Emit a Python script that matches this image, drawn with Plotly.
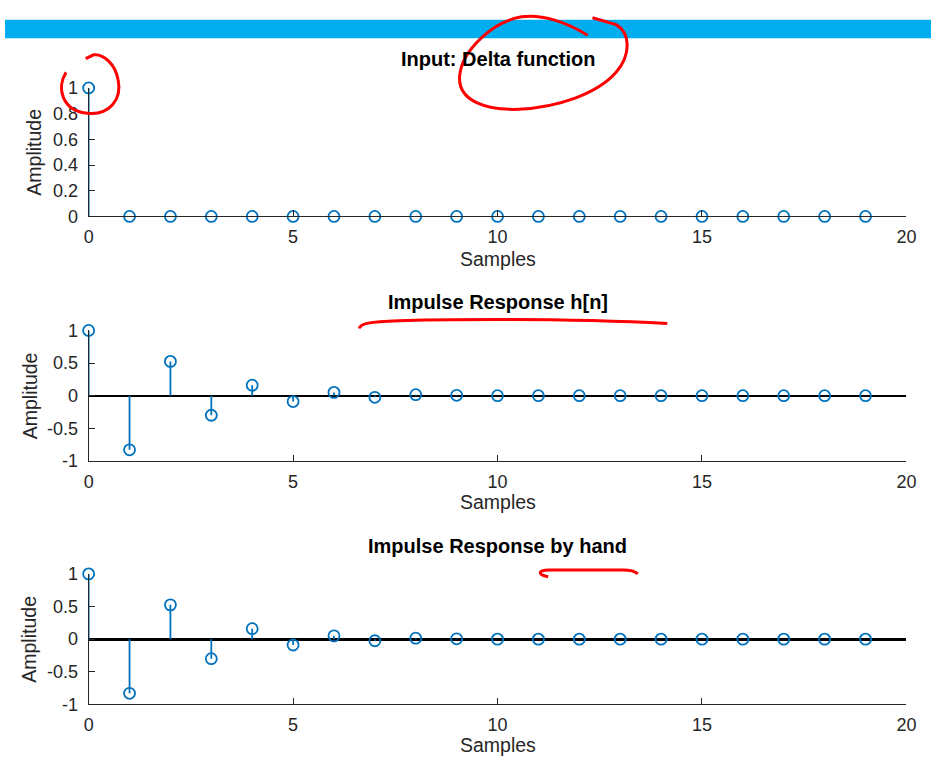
import plotly.graph_objects as go

# ---- data ----
samples = list(range(20))
delta_input = [1] + [0] * 19
h_impulse = [1, -0.83, 0.525, -0.30, 0.16, -0.09, 0.05, -0.025, 0.015, 0.005,
             0, 0, 0, 0, 0, 0, 0, 0, 0, 0]
h_by_hand = [1, -0.83, 0.525, -0.30, 0.16, -0.09, 0.05, -0.025, 0.015, 0.005,
             0, 0, 0, 0, 0, 0, 0, 0, 0, 0]
titles = ["Input: Delta function", "Impulse Response h[n]", "Impulse Response by hand"]
x_ticks = [0, 5, 10, 15, 20]
y_ticks_top = [0, 0.2, 0.4, 0.6, 0.8, 1]
y_tick_text_top = ["0", "0.2", "0.4", "0.6", "0.8", "1"]
y_ticks_sym = [-1, -0.5, 0, 0.5, 1]
y_tick_text_sym = ["-1", "-0.5", "0", "0.5", "1"]

W, H = 941, 766
BLUE = "#0072BD"
AX = "#262626"
FONT = "Liberation Sans, Arial, Helvetica, sans-serif"


def px(x):
    return x / W


def py(y):
    return 1 - y / H


fig = go.Figure()

series = [delta_input, h_impulse, h_by_hand]
for i, vals in enumerate(series):
    xa = "x" if i == 0 else f"x{i+1}"
    ya = "y" if i == 0 else f"y{i+1}"
    sx, sy = [], []
    for n, v in zip(samples, vals):
        sx += [n, n, None]
        sy += [0, v, None]
    fig.add_trace(go.Scatter(x=sx, y=sy, mode="lines", xaxis=xa, yaxis=ya,
                             line=dict(color=BLUE, width=1.8), hoverinfo="skip",
                             showlegend=False, cliponaxis=False))
    fig.add_trace(go.Scatter(x=samples, y=vals, mode="markers", xaxis=xa, yaxis=ya,
                             marker=dict(symbol="circle-open", size=11, color=BLUE,
                                         line=dict(width=1.8, color=BLUE)),
                             showlegend=False, cliponaxis=False))

# axis pixel geometry (left, right, top, bottom)
boxes = [(85, 916, 80, 212), (85, 916, 329, 463), (85, 916, 579, 713)]
zero_w = [1, 1.8, 2.6]
layout = {}
for i, (l, r, t, b) in enumerate(boxes):
    sfx = "" if i == 0 else str(i + 1)
    layout["xaxis" + sfx] = dict(
        domain=[px(l), px(r)], range=[0, 20], anchor="y" + sfx,
        tickvals=x_ticks, ticktext=[str(v) for v in x_ticks],
        ticks="inside", ticklen=6, tickwidth=1, tickcolor=AX,
        showline=True, linecolor=AX, linewidth=1, showgrid=False, zeroline=False,
        tickfont=dict(family=FONT, size=18, color=AX), ticklabelstandoff=4,
        fixedrange=True)
    if i == 0:
        yr, yt, ytt = [0, 1], y_ticks_top, y_tick_text_top
    else:
        yr, yt, ytt = [-1, 1], y_ticks_sym, y_tick_text_sym
    layout["yaxis" + sfx] = dict(
        domain=[py(b), py(t)], range=yr, anchor="x" + sfx,
        tickvals=yt, ticktext=ytt,
        ticks="inside", ticklen=6, tickwidth=1, tickcolor=AX,
        showline=True, linecolor=AX, linewidth=1, showgrid=False,
        zeroline=(i > 0), zerolinecolor="black", zerolinewidth=zero_w[i],
        tickfont=dict(family=FONT, size=18, color=AX), ticklabelstandoff=6,
        fixedrange=True)

annotations = []
title_y = [50, 300, 550]
samples_y = [256, 505, 755]
amp = [(30, 146), (25, 396), (25, 646)]
for i in range(3):
    annotations.append(dict(text="<b>" + titles[i] + "</b>", x=px(500.5), y=py(title_y[i]),
                            xref="paper", yref="paper", showarrow=False,
                            xanchor="center", yanchor="middle",
                            font=dict(family=FONT, size=20, color="black")))
    annotations.append(dict(text="Samples", x=px(500.5), y=py(samples_y[i]),
                            xref="paper", yref="paper", showarrow=False,
                            xanchor="center", yanchor="middle",
                            font=dict(family=FONT, size=19.5, color=AX)))
    annotations.append(dict(text="Amplitude", x=px(amp[i][0]), y=py(amp[i][1]),
                            xref="paper", yref="paper", showarrow=False, textangle=-90,
                            xanchor="center", yanchor="middle",
                            font=dict(family=FONT, size=19.5, color=AX)))


def path_from(pts):
    s = ""
    for cmd, coords in pts:
        s += cmd + " " + " ".join(f"{px(x):.5f},{py(y):.5f}" for x, y in coords) + " "
    return s.strip()


red = dict(color="#FF0000", width=3)
shapes = [
    dict(type="rect", xref="paper", yref="paper", x0=0, x1=1, y0=py(29), y1=py(10),
         fillcolor="#00AEEF", line=dict(width=0), layer="below"),
    dict(type="path", xref="paper", yref="paper", line=red, layer="above",
         path=path_from([("M", [(62, 64)]), ("C", [(52, 80), (58, 104), (84, 106)]),
                         ("C", [(106, 108), (119, 92), (115, 72)]),
                         ("C", [(112, 55), (100, 45), (90, 46)]),
                         ("L", [(82, 50)])])),
    dict(type="path", xref="paper", yref="paper", line=red, layer="above",
         path=path_from([("M", [(592, 26)]), ("C", [(570, 12), (545, 4), (525, 7)]),
                         ("C", [(495, 12), (464, 42), (462, 68)]),
                         ("C", [(460, 94), (490, 103), (522, 102)]),
                         ("C", [(562, 100), (602, 86), (621, 64)]),
                         ("C", [(636, 46), (636, 24), (621, 15)]),
                         ("L", [(597, 8)])])),
    dict(type="path", xref="paper", yref="paper", line=red, layer="above",
         path=path_from([("M", [(360, 327)]), ("C", [(361, 322), (370, 320), (400, 319)]),
                         ("C", [(500, 317), (600, 318), (673, 322)])])),
    dict(type="path", xref="paper", yref="paper", line=red, layer="above",
         path=path_from([("M", [(552, 582)]), ("C", [(541, 580), (541, 575), (553, 575)]),
                         ("L", [(628, 575)]),
                         ("C", [(636, 575), (641, 577), (643, 579)])])),
]

fig.update_layout(**layout)
fig.update_layout(width=W, height=H, margin=dict(l=0, r=0, t=0, b=0),
                  paper_bgcolor="white", plot_bgcolor="white",
                  annotations=annotations, shapes=shapes, showlegend=False,
                  font=dict(family=FONT))
fig.write_html("out.html", config={"displayModeBar": False})
